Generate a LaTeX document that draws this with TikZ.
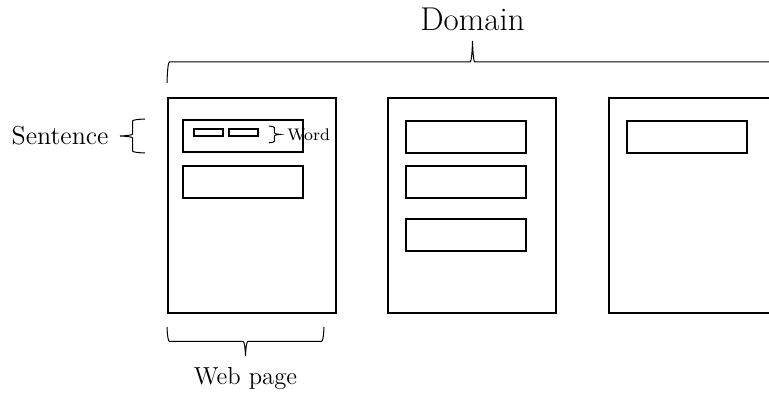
\documentclass[tikz,border=0pt]{standalone}
\usepackage{tikz}
\usetikzlibrary{positioning,calc,decorations.pathreplacing}

\begin{document}
\begin{tikzpicture}[
  x = 0.5pt,
  y = 0.5pt,
  page/.style = {
    draw,
    rectangle,
    line width = 1pt,
    minimum width = 84pt,
    minimum height = 107.5pt,
  },
  sentence/.style = {
    draw,
    rectangle,
    line width = 1pt,
    minimum width = 60pt,
    minimum height = 16pt,
  },
  word/.style = {
    draw,
    rectangle,
    line width = 0.9pt,
    inner sep = 0pt,
    minimum width = 14.5pt,
    minimum height = 3.5pt,
  },
  curly/.style 2 args = {
    decorate,
    line width = 0.5pt,
    decoration = {brace, amplitude = #1, transform = {yscale = #2}},
  },
  lbl/.style = {
    inner sep = 0pt,
  },
]

  \useasboundingbox (0,0) rectangle (769,396);
  \clip (0,0) rectangle (769,396);

  % pages of the domain
  \node[page] (p1) at (252,190.5) {};
  \node[page] (p2) [right=25pt of p1] {};
  \node[page] (p3) [right=25.5pt of p2] {};

  % sentences
  \node[sentence] (s11) [below right=11pt and 7.5pt of p1.north west] {};
  \node[sentence] (s12) [below=6pt of s11] {};

  \node[sentence] (s21) [below right=11.5pt and 9pt of p2.north west] {};
  \node[sentence] (s22) [below=5.5pt of s21] {};
  \node[sentence] (s23) [below=9.5pt of s22] {};

  \node[sentence] (s31) [below right=11.5pt and 9pt of p3.north west] {};

  % words
  \node[word] (w1) [below right=4.5pt and 5.5pt of s11.north west] {};
  \node[word] (w2) [right=2.1pt of w1] {};

  % braces
  \draw[curly={1.2pt}{17.5}] ([yshift=7pt]p1.north west) -- ([yshift=7pt]p3.north east)
    node[midway,anchor=base,yshift=26pt,lbl,font=\fontsize{16.5}{19}\selectfont] (dom) {Domain};

  \draw[curly={1.2pt}{12}] ([xshift=-6.5pt,yshift=-6.5pt]p1.south east) -- ([yshift=-6.5pt]p1.south west)
    node[midway,anchor=base,yshift=-28.5pt,lbl,font=\fontsize{12.3}{15}\selectfont] (web) {Web page};

  \draw[curly={1pt}{12.5}] ([xshift=-18.5pt]s11.south west) -- ([xshift=-18.5pt]s11.north west)
    node[midway,left=18pt,lbl,font=\fontsize{13}{16}\selectfont] (sen) {Sentence};

  \draw[curly={0.8pt}{7}] ([xshift=5pt,yshift=1pt]w2.north east) -- ([xshift=5pt,yshift=-3pt]w2.south east)
    node[midway,right=9pt,lbl,font=\fontsize{8.4}{10}\selectfont] (wrd) {Word};

\end{tikzpicture}
\end{document}
